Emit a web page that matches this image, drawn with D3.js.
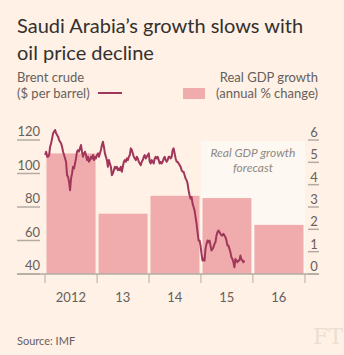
<!DOCTYPE html>
<html>
<head>
<meta charset="utf-8">
<script src="https://cdn.jsdelivr.net/npm/d3@7"></script>
<style>
  body { margin: 0; background: #fff1e5; }
  svg { display: block; font-family: Lato, "Open Sans", sans-serif; }
</style>
</head>
<body>
<div class="chart"></div>
<script>
// GDP growth bars, one per year
var years = [2012, 2013, 2014, 2015, 2016];
var yearLabels = ["2012", "13", "14", "15", "16"];
var gdpGrowth = [5.4, 2.7, 3.5, 3.4, 2.2];

// Axis ticks
var oilTicks = [40, 60, 80, 100, 120];
var gdpTicks = [0, 1, 2, 3, 4, 5, 6];

// Brent crude, weekly ($ per barrel), first week starting Mon 2 Jan 2012
var brentStart = "2012-01-02";
var brent2012 = [111, 113, 110, 110, 111, 116, 118, 121, 124, 125, 126, 124, 123,
  122, 120, 119, 118, 116, 113, 111, 109, 107, 99, 98, 95, 90, 97, 100, 104, 103,
  106, 109, 113, 114, 113, 115, 117, 113, 110, 112, 113, 111, 108, 110, 107, 108,
  110, 109, 111, 108, 110, 109, 111];
var brent2013 = [112, 110, 112, 114, 117, 119, 116, 112, 110, 108, 104, 108, 106,
  104, 99, 100, 102, 104, 103, 104, 102, 103, 102, 104, 101, 104, 107, 108, 107,
  109, 108, 110, 111, 115, 114, 112, 110, 109, 108, 110, 109, 107, 106, 105, 107,
  108, 110, 111, 109, 110, 111, 112];
var brent2014 = [107, 106, 108, 107, 106, 109, 110, 109, 110, 108, 106, 107, 106,
  107, 109, 110, 108, 107, 108, 110, 110, 109, 110, 114, 115, 112, 109, 107, 107,
  106, 105, 104, 102, 101, 101, 99, 97, 96, 94, 90, 87, 85, 86, 82, 80, 78, 74,
  70, 65, 60, 60, 57];
var brent2015 = [52, 48, 49, 48, 55, 58, 60, 59, 60, 57, 54, 55, 56, 58, 59, 63,
  65, 66, 65, 64, 63, 63, 64, 63, 62, 60, 57, 57, 55, 53, 50, 49, 47, 44, 49, 48,
  47, 48, 48, 51, 49, 48, 47, 48];

var svgWidth = 344;
var svgHeight = 355;

var svg = d3.select(".chart")
  .append("svg")
  .attr("width", svgWidth)
  .attr("height", svgHeight);

svg.append("rect")
  .attr("width", svgWidth)
  .attr("height", svgHeight)
  .attr("fill", "#fff1e5");

//Scales: time across, two value scales sharing the same pixel range.
var x = d3.scaleTime()
  .domain([new Date(2012, 0, 1), new Date(2017, 0, 1)])
  .range([45, 305]);
var yOil = d3.scaleLinear().domain([40, 120]).range([274, 140]);
var yGdp = d3.scaleLinear().domain([0, 6]).range([274, 140]);

//Build the weekly series.
var start = d3.timeParse("%Y-%m-%d")(brentStart);
var brent = brent2012.concat(brent2013, brent2014, brent2015).map(function(v, i) {
  return { date: d3.timeWeek.offset(start, i), price: v };
});

//Title
var title = svg.append("text")
  .attr("x", 17)
  .attr("y", 33)
  .attr("fill", "#33302e")
  .style("font-size", "20px");
title.append("tspan").attr("x", 17).text("Saudi Arabia\u2019s growth slows with");
title.append("tspan").attr("x", 17).attr("dy", 27).text("oil price decline");

//Legend
var legend = svg.append("g")
  .attr("fill", "#66605c")
  .style("font-size", "13px");
legend.append("text").attr("x", 17).attr("y", 82).text("Brent crude");
legend.append("text").attr("x", 17).attr("y", 98).text("($ per barrel)");
legend.append("line")
  .attr("x1", 98).attr("x2", 122)
  .attr("y1", 93).attr("y2", 93)
  .attr("stroke", "#a0375b")
  .attr("stroke-width", 2);
legend.append("text").attr("x", 318).attr("y", 82)
  .attr("text-anchor", "end").text("Real GDP growth");
legend.append("text").attr("x", 318).attr("y", 98)
  .attr("text-anchor", "end").text("(annual % change)");
legend.append("rect")
  .attr("x", 183).attr("y", 88)
  .attr("width", 22).attr("height", 11)
  .attr("fill", "#f0acac");

//Forecast panel behind the last two years
var fc = svg.append("g");
fc.append("rect")
  .attr("x", x(new Date(2015, 0, 1)))
  .attr("y", yGdp(6) + 1)
  .attr("width", x(new Date(2017, 0, 1)) - x(new Date(2015, 0, 1)))
  .attr("height", yGdp(0) - yGdp(6) - 1)
  .attr("fill", "#fdf8f2");
var fcText = fc.append("text")
  .attr("x", x(new Date(2016, 0, 1)))
  .attr("y", 157)
  .attr("text-anchor", "middle")
  .attr("fill", "#8f8983")
  .style("font-size", "12px")
  .style("font-style", "italic");
fcText.append("tspan").attr("x", x(new Date(2016, 0, 1))).text("Real GDP growth");
fcText.append("tspan").attr("x", x(new Date(2016, 0, 1))).attr("dy", 15).text("forecast");

//Bars
svg.append("g").selectAll("rect")
  .data(years)
  .enter().append("rect")
    .attr("x", function(d) { return x(new Date(d, 0, 1)) + 1.5; })
    .attr("width", function(d) { return x(new Date(d + 1, 0, 1)) - x(new Date(d, 0, 1)) - 3; })
    .attr("y", function(d, i) { return yGdp(gdpGrowth[i]); })
    .attr("height", function(d, i) { return yGdp(0) - yGdp(gdpGrowth[i]); })
    .attr("fill", "#f0acac");

var axisColor = "#b3aba3";

//Left axis (oil)
var left = svg.append("g");
left.selectAll("line")
  .data(oilTicks)
  .enter().append("line")
    .attr("x1", 17).attr("x2", 40)
    .attr("y1", function(d) { return yOil(d); })
    .attr("y2", function(d) { return yOil(d); })
    .attr("stroke", axisColor)
    .attr("stroke-width", 1.5);
left.selectAll("text")
  .data(oilTicks)
  .enter().append("text")
    .attr("x", 40)
    .attr("y", function(d) { return yOil(d) - 4; })
    .attr("text-anchor", "end")
    .attr("fill", "#66605c")
    .style("font-size", "13px")
    .text(function(d) { return d; });

//Right axis (GDP)
var right = svg.append("g");
right.selectAll("line")
  .data(gdpTicks)
  .enter().append("line")
    .attr("x1", 308).attr("x2", 319)
    .attr("y1", function(d) { return yGdp(d); })
    .attr("y2", function(d) { return yGdp(d); })
    .attr("stroke", axisColor)
    .attr("stroke-width", 1.5);
right.selectAll("text")
  .data(gdpTicks)
  .enter().append("text")
    .attr("x", 314)
    .attr("y", function(d) { return yGdp(d) - 3; })
    .attr("text-anchor", "middle")
    .attr("fill", "#66605c")
    .style("font-size", "13px")
    .text(function(d) { return d; });

//Baseline and year ticks
svg.append("line")
  .attr("x1", 17).attr("x2", 319)
  .attr("y1", yGdp(0)).attr("y2", yGdp(0))
  .attr("stroke", axisColor)
  .attr("stroke-width", 1.5);

var yearEdges = years.concat([2017]);
svg.append("g").selectAll("line")
  .data(yearEdges)
  .enter().append("line")
    .attr("x1", function(d) { return x(new Date(d, 0, 1)); })
    .attr("x2", function(d) { return x(new Date(d, 0, 1)); })
    .attr("y1", yGdp(0)).attr("y2", yGdp(0) + 9)
    .attr("stroke", axisColor)
    .attr("stroke-width", 1);

svg.append("g").selectAll("text")
  .data(years)
  .enter().append("text")
    .attr("x", function(d) { return x(new Date(d, 6, 1)); })
    .attr("y", 302)
    .attr("text-anchor", "middle")
    .attr("fill", "#66605c")
    .style("font-size", "13px")
    .text(function(d, i) { return yearLabels[i]; });

//Brent line
var line = d3.line()
  .x(function(d) { return x(d.date); })
  .y(function(d) { return yOil(d.price); });

svg.append("path")
  .datum(brent)
  .attr("d", line)
  .attr("fill", "none")
  .attr("stroke", "#a0375b")
  .attr("stroke-width", 2)
  .attr("stroke-linejoin", "round");

//Footer
svg.append("text")
  .attr("x", 17).attr("y", 345)
  .attr("fill", "#66605c")
  .style("font-size", "11px")
  .text("Source: IMF");

svg.append("text")
  .attr("x", 313).attr("y", 344)
  .attr("fill", "#ebdfd2")
  .style("font-family", "'DejaVu Serif', serif")
  .style("font-size", "22px")
  .text("FT");
</script>
</body>
</html>
